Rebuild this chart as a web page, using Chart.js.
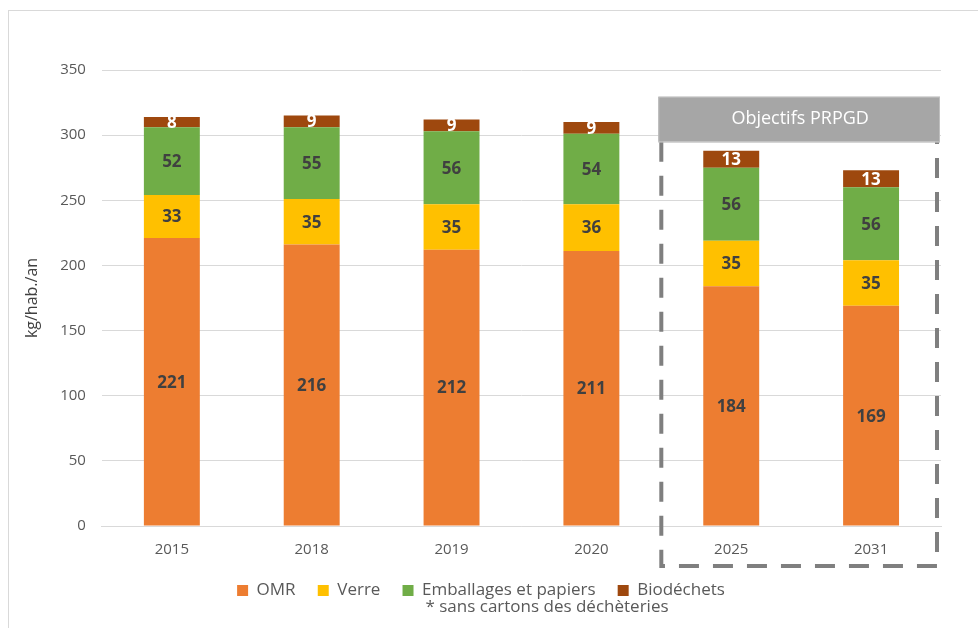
<!DOCTYPE html>
<html>
<head>
<meta charset="utf-8">
<script src="https://cdn.jsdelivr.net/npm/chart.js@4"></script>
<style>
    html, body { margin: 0; padding: 0; background: #ffffff; }
    #wrap { width: 978px; height: 628px; }
</style>
</head>
<body>
<div id="wrap"><canvas id="wasteChart"></canvas></div>
<script>
// ===================================
// DATA
// ===================================
const years = ['2015', '2018', '2019', '2020', '2025', '2031'];
const omr = [221, 216, 212, 211, 184, 169];
const verre = [33, 35, 35, 36, 35, 35];
const emballages = [52, 55, 56, 54, 56, 56];
const biodechets = [8, 9, 9, 9, 13, 13];
const yTicks = [0, 50, 100, 150, 200, 250, 300, 350];

const FONT = "'Open Sans', 'Liberation Sans', sans-serif";
const GREY_TEXT = '#595959';

// Value labels centred in each segment
const segmentLabels = {
    id: 'segmentLabels',
    afterDatasetsDraw(chart) {
        const ctx = chart.ctx;
        ctx.save();
        ctx.font = 'bold 17px ' + FONT;
        ctx.textAlign = 'center';
        ctx.textBaseline = 'middle';
        chart.data.datasets.forEach((ds, i) => {
            const meta = chart.getDatasetMeta(i);
            ctx.fillStyle = i === 3 ? '#ffffff' : '#404040';
            meta.data.forEach((bar, j) => {
                const cy = (bar.y + bar.base) / 2;
                ctx.fillText(ds.data[j], bar.x, cy + 1);
            });
        });
        ctx.restore();
    }
};

// Frame, "Objectifs PRPGD" box and footnote
const decorations = {
    id: 'decorations',
    beforeDraw(chart) {
        const ctx = chart.ctx;
        ctx.save();
        ctx.strokeStyle = '#d9d9d9';
        ctx.lineWidth = 1;
        ctx.strokeRect(8.5, 10.5, chart.width + 10, chart.height + 10);
        ctx.restore();
    },
    afterDraw(chart) {
        const ctx = chart.ctx;
        const x = chart.scales.x;
        const y = chart.scales.y;
        const left = x.getPixelForValue(3.5);
        const right = x.getPixelForValue(5.5);
        const headTop = y.getPixelForValue(329.5);
        const headBottom = y.getPixelForValue(295);
        const bottom = y.getPixelForValue(0) + 40;

        ctx.save();
        ctx.strokeStyle = '#7f7f7f';
        ctx.lineWidth = 4;
        ctx.setLineDash([20, 14]);
        ctx.beginPath();
        ctx.moveTo(left, headBottom);
        ctx.lineTo(left, bottom);
        ctx.lineTo(right - 4, bottom);
        ctx.lineTo(right - 4, headBottom);
        ctx.stroke();
        ctx.setLineDash([]);

        ctx.fillStyle = '#a6a6a6';
        ctx.fillRect(left - 3, headTop, right - left + 2, headBottom - headTop);
        ctx.strokeStyle = '#bfbfbf';
        ctx.lineWidth = 1;
        ctx.strokeRect(left - 2.5, headTop + 0.5, right - left + 1, headBottom - headTop);
        ctx.fillStyle = '#ffffff';
        ctx.font = '18px ' + FONT;
        ctx.textAlign = 'center';
        ctx.textBaseline = 'middle';
        ctx.fillText('Objectifs PRPGD', (left + right) / 2 - 1, (headTop + headBottom) / 2);

        ctx.fillStyle = GREY_TEXT;
        ctx.font = '17px ' + FONT;
        ctx.fillText('* sans cartons des déchèteries', 547, 607);
        ctx.restore();
    }
};

// Legend items with a wider gap between entries
function spacedLabels(chart) {
    const items = Chart.defaults.plugins.legend.labels.generateLabels(chart);
    return items.map((item, i) => {
        if (i < items.length - 1) item.text = item.text + '\u2002\u2009\u2009';
        return item;
    });
}

let wasteChart;

function initWasteChart() {
    const ctx = document.getElementById('wasteChart').getContext('2d');
    wasteChart = new Chart(ctx, {
        type: 'bar',
        data: {
            labels: years,
            datasets: [
                { label: 'OMR', data: omr, backgroundColor: '#ed7d31' },
                { label: 'Verre', data: verre, backgroundColor: '#ffc000' },
                { label: 'Emballages et papiers', data: emballages, backgroundColor: '#70ad47' },
                { label: 'Biodéchets', data: biodechets, backgroundColor: '#9e480e' }
            ]
        },
        options: {
            responsive: true,
            maintainAspectRatio: false,
            animation: false,
            categoryPercentage: 0.4,
            barPercentage: 1,
            layout: { padding: { left: 21, right: 37, top: 70, bottom: 19 } },
            plugins: {
                legend: {
                    position: 'bottom',
                    labels: {
                        color: GREY_TEXT,
                        font: { size: 17, family: FONT },
                        boxWidth: 11,
                        boxHeight: 11,
                        padding: 8,
                        generateLabels: spacedLabels
                    }
                },
                tooltip: { enabled: false }
            },
            scales: {
                x: {
                    stacked: true,
                    grid: { display: false, drawTicks: false },
                    border: { color: '#d9d9d9' },
                    ticks: { color: GREY_TEXT, font: { size: 15, family: FONT }, padding: 15 }
                },
                y: {
                    stacked: true,
                    min: 0,
                    max: 350,
                    afterBuildTicks: (axis) => { axis.ticks = yTicks.map(v => ({ value: v })); },
                    grid: { color: '#d9d9d9', drawTicks: false },
                    border: { display: false },
                    ticks: { color: GREY_TEXT, font: { size: 15, family: FONT }, padding: 16 },
                    title: {
                        display: true,
                        text: 'kg/hab./an',
                        color: '#404040',
                        font: { size: 16, family: FONT },
                        padding: 2
                    }
                }
            }
        },
        plugins: [segmentLabels, decorations]
    });
}

window.addEventListener('DOMContentLoaded', initWasteChart);
</script>
</body>
</html>
